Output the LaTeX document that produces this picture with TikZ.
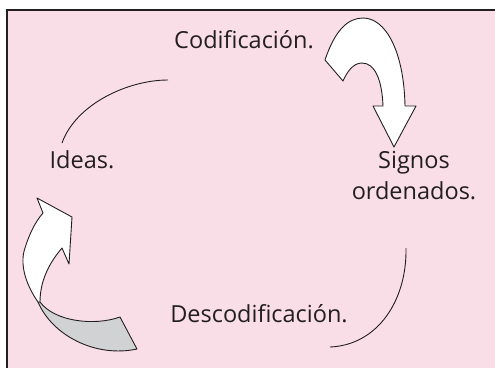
\documentclass[tikz,border=0pt]{standalone}
\usepackage{fontspec}
\setmainfont{Open Sans}
\definecolor{bgpink}{RGB}{249,222,232}
\definecolor{ribbongray}{RGB}{209,210,212}
\definecolor{ink}{RGB}{35,31,32}
\begin{document}
\begin{tikzpicture}[x=1pt,y=-1pt,
  lbl/.style={font=\fontsize{23.5}{28}\selectfont, text=ink, inner sep=0pt, anchor=base, align=center},
  arc/.style={draw=ink, line width=0.9pt},
  bigarrow/.style={draw=ink, line width=0.9pt, line join=round}]
\useasboundingbox (0,0) rectangle (495,368);
\fill[bgpink] (7,10) rectangle (495,368);
\draw[ink, line width=1.3pt] (7,368) -- (7,10) -- (495,10);
% labels
\node[lbl] (cod) at (244,48) {Codificación.};
\node[lbl] (ideas) at (82,168) {Ideas.};
\node[lbl] (signos) at (414,168) {Signos};
\node[lbl] (orden) at (414,199) {ordenados.};
\node[lbl] (descod) at (259,322) {Descodificación.};
% thin arcs
\coordinate (a1) at (168,80);
\coordinate (a2) at (62,143);
\coordinate (b1) at (406,248);
\coordinate (b2) at (330,347);
\draw[arc] (a1) .. controls (128,80) and (76,104) .. (a2);
\draw[arc] (b1) .. controls (407,300) and (378,345) .. (b2);
% top curved arrow
\draw[bigarrow, fill=white]
  (325,60) .. controls (335,30) and (348,18) .. (363,18)
  .. controls (386,18) and (404,52) .. (405,106)
  -- (416,106) -- (394,147) -- (373,106) -- (383,106)
  .. controls (382,80) and (375,63) .. (362,63)
  .. controls (353,63) and (347,72) .. (343,81) -- cycle;
% left ribbon arrow: gray tail
\draw[bigarrow, fill=ribbongray]
  (38,302) .. controls (52,335) and (95,358) .. (137,349)
  -- (120,317)
  .. controls (95,326) and (55,322) .. (40,302) -- cycle;
% left ribbon arrow: white head
\draw[bigarrow, fill=white]
  (38,302) .. controls (24,282) and (20,262) .. (25,248)
  .. controls (29,235) and (35,222) .. (43,213)
  -- (37,198) -- (72,217) -- (69,264) -- (62,248)
  .. controls (50,262) and (40,280) .. (40,302) -- cycle;
\end{tikzpicture}
\end{document}
